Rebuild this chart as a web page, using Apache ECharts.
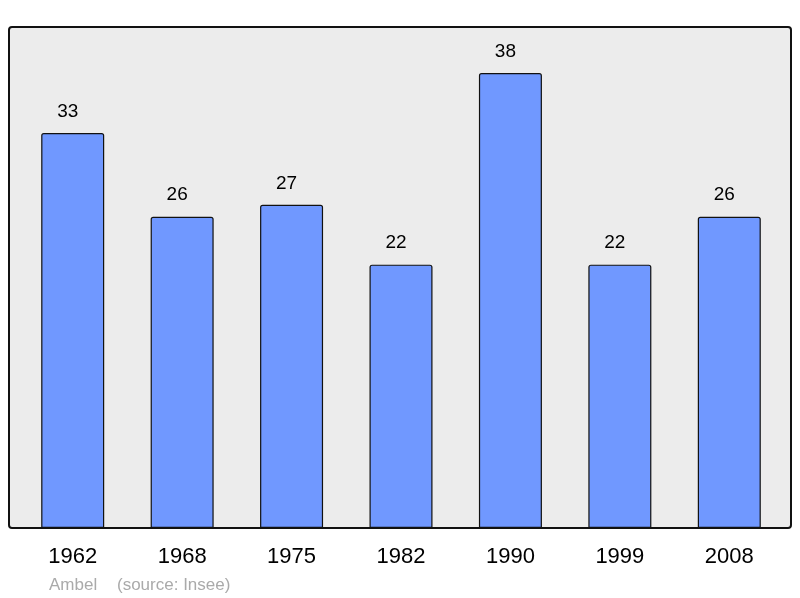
<!DOCTYPE html>
<html>
<head>
<meta charset="utf-8">
<script src="https://cdn.jsdelivr.net/npm/echarts@6/dist/echarts.min.js"></script>
<style>
  html, body { margin: 0; padding: 0; background: #fff; }
  #chart { width: 800px; height: 598px; }
</style>
</head>
<body>
<div id="chart"></div>
<script>
// population par recensement
const years = ["1962", "1968", "1975", "1982", "1990", "1999", "2008"];
const population = [33, 26, 27, 22, 38, 22, 26];

const chart = echarts.init(document.getElementById("chart"));
chart.setOption({
  animation: false,
  textStyle: { fontFamily: "Liberation Sans" },
  graphic: [
    {
      // cadre gris du graphique
      type: "rect",
      shape: { x: 9, y: 27, width: 782, height: 501, r: 3 },
      style: { fill: "#ececec", stroke: "#111", lineWidth: 2 },
      z: -10
    },
    {
      type: "text",
      left: 49,
      top: 577,
      style: { text: "Ambel", fill: "#aaaaaa", font: "17px 'Liberation Sans'" }
    },
    {
      type: "text",
      left: 117,
      top: 577,
      style: { text: "(source: Insee)", fill: "#aaaaaa", font: "17px 'Liberation Sans'" }
    }
  ],
  grid: { left: 18, right: 16, top: 27, bottom: 70 },
  xAxis: {
    type: "category",
    data: years,
    axisLine: { show: false },
    axisTick: { show: false },
    axisLabel: { color: "#000", fontSize: 22, margin: 18 }
  },
  yAxis: {
    type: "value",
    min: 0,
    max: 41.85,
    show: false,
    splitLine: { show: false }
  },
  series: [
    {
      type: "bar",
      data: population,
      barWidth: 63,
      itemStyle: {
        color: "#7098ff",
        borderColor: "#111",
        borderWidth: 1.2,
        borderRadius: [2, 2, 0, 0]
      },
      label: {
        show: true,
        position: "top",
        distance: 12,
        offset: [-5, 0],
        color: "#000",
        fontSize: 19
      }
    }
  ]
});
</script>
</body>
</html>
